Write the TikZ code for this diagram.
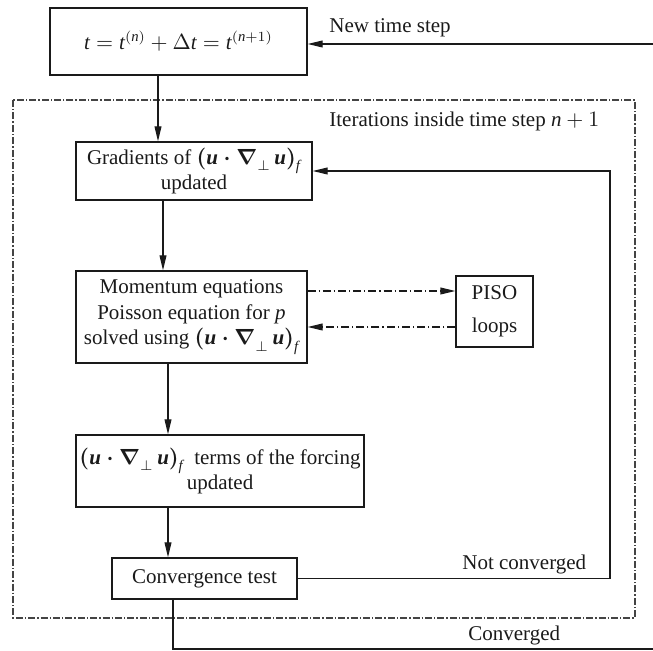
\documentclass[tikz,border=0pt]{standalone}
\usepackage{amsmath}
\usepackage{fontspec}
\setmainfont{Liberation Serif}
\newfontfamily\timesfam[NFSSFamily=ltimes]{Liberation Serif}
\DeclareSymbolFont{operators}{TU}{ltimes}{m}{n}
\SetSymbolFont{operators}{bold}{TU}{ltimes}{b}{n}
\DeclareSymbolFont{letters}{TU}{ltimes}{m}{it}
\SetSymbolFont{letters}{bold}{TU}{ltimes}{b}{it}
\Umathchardef\Delta="7 \symoperators "0394
\usepackage{tikz}
\usetikzlibrary{arrows.meta}
\definecolor{ink}{HTML}{1A1A1A}
\definecolor{framec}{HTML}{444444}
\newcommand{\uterm}{\boldsymbol{(u\cdot\nabla}_{\perp}\,\boldsymbol{u)}_{f}}
\tikzset{
  box/.style={draw=ink, line width=0.6pt, inner sep=0pt, align=center, text=ink},
  arr/.style={draw=ink, line width=0.6pt, -{Triangle[length=7.5pt,width=3.4pt]}},
  link/.style={draw=ink, line width=0.6pt},
  dd/.style={dash pattern=on 4pt off 1.5pt on 0.6pt off 1.5pt},
  lab/.style={anchor=base west, inner sep=0pt, text=ink},
}

\begin{document}
\begin{tikzpicture}[x=0.5pt, y=-0.5pt, font=\fontsize{10.5}{12.75}\selectfont]
  \useasboundingbox (0,0) rectangle (653,651);
  \draw[framec, line width=0.6pt, dash pattern=on 3.5pt off 1pt on 0.7pt off 1pt] (13,100) rectangle (635,618);

  \node[box, minimum width=128.5pt, minimum height=33.5pt] (tstep) at (178.5,41.5) {\raisebox{-2pt}{$t = t^{(n)} + \Delta t = t^{(n+1)}$}};
  \node[box, minimum width=118pt, minimum height=29pt] (grad) at (194,171) {Gradients of $\uterm$\\updated};
  \node[box, minimum width=115.5pt, minimum height=46pt] (mom) at (191.5,317) {Momentum equations\\Poisson equation for $p$\\solved using $\uterm$};
  \node[box, minimum width=38.5pt, minimum height=35.5pt] (piso) at (494.5,311.5) {PISO\\[4pt]loops};
  \node[box, minimum width=144pt, minimum height=36pt] (forc) at (220,471) {$\uterm$\ \ terms of the forcing\\updated};
  \node[box, minimum width=92.5pt, minimum height=20.5pt] (conv) at (204.5,578.5) {Convergence test};

  \coordinate (in) at (653,44);
  \coordinate (out) at (653,649);
  \coordinate (back) at (610,0);
  \coordinate (p1) at (0,291);
  \coordinate (p2) at (0,327);
  \coordinate (c1) at (158,0);
  \coordinate (c2) at (163,0);
  \coordinate (c3) at (168,0);
  \coordinate (c4) at (173,0);

  \draw[arr] (in) -- (in -| tstep.east);
  \draw[arr] (tstep.south -| c1) -- (grad.north -| c1);
  \draw[arr] (grad.south -| c2) -- (mom.north -| c2);
  \draw[arr] (mom.south -| c3) -- (forc.north -| c3);
  \draw[arr] (forc.south -| c3) -- (conv.north -| c3);
  \draw[arr] (conv.east) -| (back |- grad.east) -- (grad.east);
  \draw[link] (conv.south -| c4) |- (out);
  \draw[arr, dd] (mom.east |- p1) -- (piso.west |- p1);
  \draw[arr, dd] (piso.west |- p2) -- (mom.east |- p2);

  \node[lab] (newstep) at (329,33) {New time step};
  \node[lab] (iter) at (329,127) {Iterations inside time step $n+1$};
  \node[lab] (notconv) at (462,570) {Not converged};
  \node[lab] (conved) at (468,640) {Converged};
\end{tikzpicture}
\end{document}
